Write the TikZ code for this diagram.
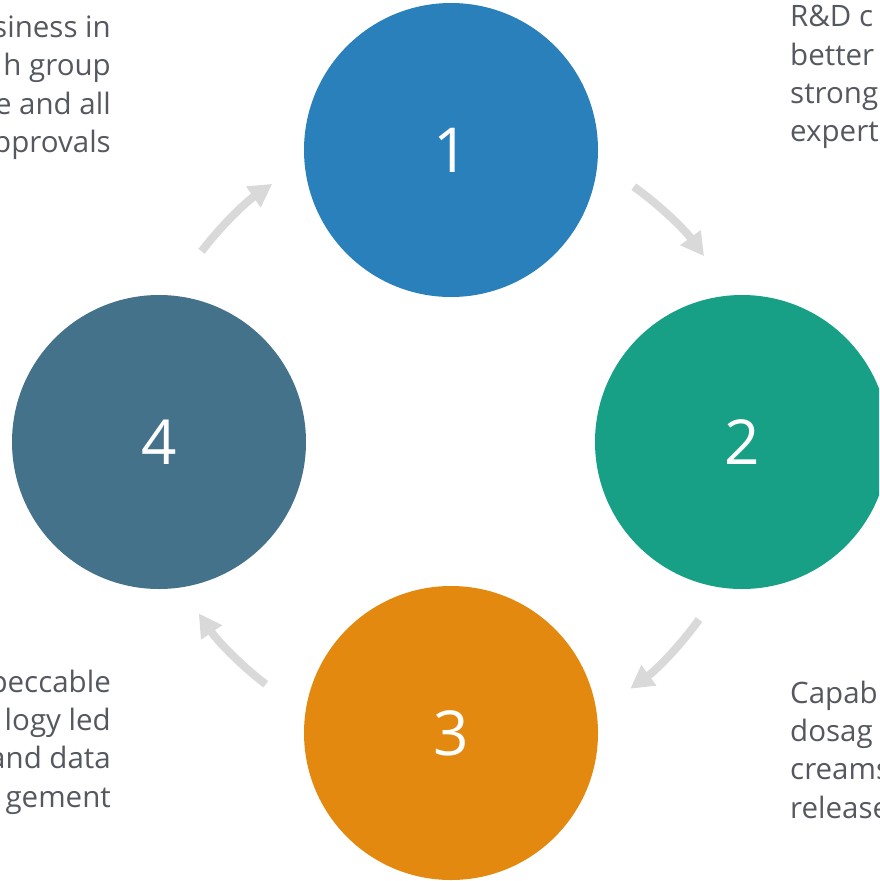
\documentclass[tikz,border=0pt]{standalone}
\usepackage{fontspec}
\setmainfont{Open Sans}
\usetikzlibrary{arrows.meta}
\definecolor{cOne}{HTML}{2A80BA}
\definecolor{cTwo}{HTML}{17A086}
\definecolor{cThree}{HTML}{E3890F}
\definecolor{cFour}{HTML}{44728A}
\definecolor{txtgray}{HTML}{55585E}
\definecolor{arrgray}{HTML}{D9D9D9}
\tikzset{
  bigdisc/.style={circle, minimum size=294pt, inner sep=0pt, text=white,
    font=\fontsize{62}{62}\selectfont},
  sidetext/.style={inner sep=0pt, text=txtgray, font=\fontsize{29.5}{38.3}\selectfont},
  cyclearrow/.style={draw=arrgray, line width=8pt,
    -{Triangle[width=24pt,length=23pt]}},
}
\begin{document}
\begin{tikzpicture}[x=1pt,y=1pt]
\useasboundingbox (0,0) rectangle (879,-881);
\clip (0,0) rectangle (879,-881);
\coordinate (c) at (451,-442);
\node[bigdisc, fill=cOne] (n1) at (451,-150) {1};
\node[bigdisc, fill=cTwo] (n2) at (742,-442) {2};
\node[bigdisc, fill=cThree] (n3) at (451,-733) {3};
\node[bigdisc, fill=cFour] (n4) at (159,-442) {4};
\draw[cyclearrow] ([shift={(142.6:314)}]c) arc (142.6:124.7:314);
\draw[cyclearrow] ([shift={(54.4:314)}]c) arc (54.4:36.3:314);
\draw[cyclearrow] ([shift={(-35.6:305)}]c) arc (-35.6:-54:305);
\draw[cyclearrow] ([shift={(-127.4:305)}]c) arc (-127.4:-145.8:305);
\node[sidetext, align=right, anchor=north east] (tl) at (111,-15.6)
  {siness in\\h group\\e and all\\pprovals};
\node[sidetext, align=left, anchor=north west] (tr) at (790,-5.2)
  {R\&D c\\better\\strong\\expert};
\node[sidetext, align=right, anchor=north east] (bl) at (111,-669.6)
  {peccable\\logy led\\and data\\gement};
\node[sidetext, align=left, anchor=north west] (br) at (790,-680.6)
  {Capab\\dosag\\creams\\release};
\end{tikzpicture}
\end{document}
